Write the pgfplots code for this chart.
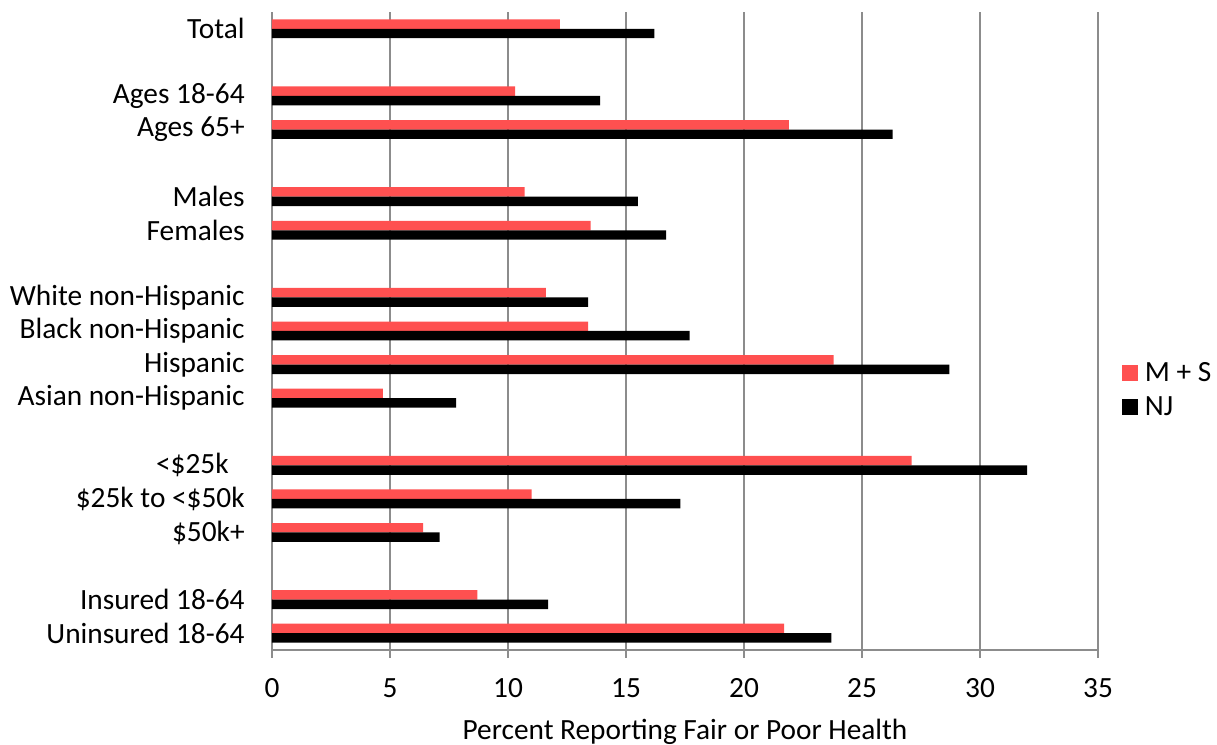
\documentclass[border=0pt]{standalone}
\usepackage{pgfplots}
\pgfplotsset{compat=1.18}
\usepackage{fontspec}
\setmainfont{Carlito}
\definecolor{msred}{RGB}{255,80,80}
\definecolor{gridgray}{RGB}{140,140,140}
\begin{document}
\begin{tikzpicture}
\useasboundingbox (-204pt,-71.25pt) rectangle (708.75pt,487.5pt);
\begin{axis}[
  scale only axis, width=619.5pt, height=478.5pt,
  xmin=0, xmax=35, ymin=-0.5, ymax=18.5,
  xtick={0,5,...,35},
  ytick={18,16,15,13,12,10,9,8,7,5,4,3,1,0},
  yticklabels={Total,Ages 18-64,Ages 65+,Males,Females,White non-Hispanic,Black non-Hispanic,Hispanic,Asian non-Hispanic,<\$25k\hspace*{12pt},\$25k to <\$50k,\$50k+,Insured 18-64,Uninsured 18-64},
  axis lines*=left,
  axis line style={gridgray, line width=1.1pt},
  xmajorgrids, grid style={gridgray, line width=1.1pt},
  tick align=outside,
  major tick length=6pt,
  xtick style={gridgray, line width=1.1pt},
  ytick style={draw=none},
  font=\fontsize{22pt}{26pt}\selectfont,
  ticklabel style={font=\fontsize{22pt}{26pt}\selectfont},
  xticklabel style={yshift=-12pt},
  yticklabel style={anchor=east, xshift=-11pt},
  xlabel={Percent Reporting Fair or Poor Health},
  xlabel style={at={(axis description cs:0.5,-0.128)}, anchor=center},
  /pgf/number format/assume math mode=true,
  xbar, bar width=7.1pt,
  legend style={at={(axis description cs:1.029,0.4075)}, anchor=west, draw=none, fill=none,
    font=\fontsize{22pt}{26pt}\selectfont, row sep=6pt, inner sep=0pt,
    nodes={inner sep=2pt},
    /tikz/every odd column/.append style={column sep=3pt}},
  legend cell align=left,
]
\addplot[fill=msred, draw=none, bar shift=3.55pt,
  legend image code/.code={\fill[msred] (0pt,-6pt) rectangle (12pt,6pt);}]
  coordinates {(12.2,18) (10.3,16) (21.9,15) (10.7,13) (13.5,12) (11.6,10) (13.4,9) (23.8,8) (4.7,7) (27.1,5) (11.0,4) (6.4,3) (8.7,1) (21.7,0)};
\addplot[fill=black, draw=none, bar shift=-3.55pt,
  legend image code/.code={\fill[black] (0pt,-6pt) rectangle (12pt,6pt);}]
  coordinates {(16.2,18) (13.9,16) (26.3,15) (15.5,13) (16.7,12) (13.4,10) (17.7,9) (28.7,8) (7.8,7) (32.0,5) (17.3,4) (7.1,3) (11.7,1) (23.7,0)};
\legend{M + S, NJ}
\end{axis}
\end{tikzpicture}
\end{document}
